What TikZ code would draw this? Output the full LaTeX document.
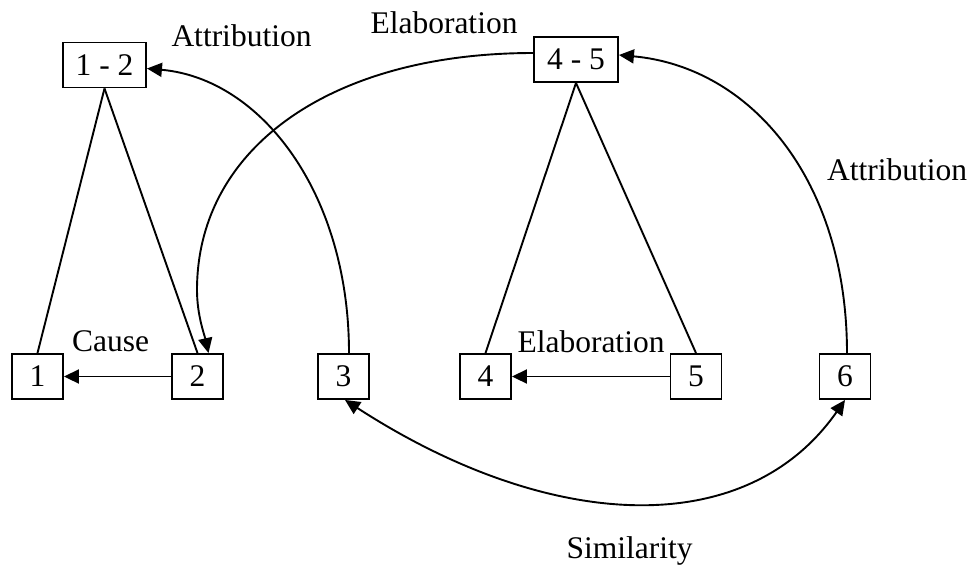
\documentclass[tikz,border=0pt]{standalone}
\usepackage{fontspec}
\setmainfont{Liberation Serif}
\usetikzlibrary{arrows.meta}

\tikzset{
  box/.style={draw, line width=1.9pt, inner sep=0pt, minimum height=45pt},
  parentbox/.style={box, minimum width=84pt},
  leafbox/.style={box, minimum width=51pt},
  link/.style={line width=1.9pt},
  rel/.style={line width=1.9pt, -{Triangle[length=15pt,width=14pt]}},
  relboth/.style={line width=1.9pt, {Triangle[length=15pt,width=14pt]}-{Triangle[length=15pt,width=14pt]}},
  lbl/.style={anchor=base, inner sep=0pt}
}

\begin{document}
\begin{tikzpicture}[x=1pt, y=-1pt, font=\fontsize{31.5}{38}\selectfont]
\useasboundingbox (0,0) rectangle (975,566);

% span nodes
\node[parentbox, minimum width=83pt] (n12) at (104.5,65) {1 - 2};
\node[parentbox] (n45) at (576,59.5) {4 - 5};

% elementary units
\node[leafbox] (n1) at (37.5,376.5) {1};
\node[leafbox] (n2) at (197.5,376.5) {2};
\node[leafbox] (n3) at (343.5,376.5) {3};
\node[leafbox] (n4) at (485.5,376.5) {4};
\node[leafbox] (n5) at (696,376.5) {5};
\node[leafbox] (n6) at (845,376.5) {6};

% tree edges
\draw[link] (n12.south) -- (n1.north);
\draw[link] (n12.south) -- (n2.north);
\draw[link] (n45.south) -- (n4.north);
\draw[link] (n45.south) -- (n5.north);

% relations between siblings
\draw[rel] (n2.west) -- (n1.east);
\draw[rel] (n5.west) -- (n4.east);

% long-range relations
\draw[rel] ([xshift=5.5pt]n3.north) .. controls +(0,-160) and +(114,10) .. ([yshift=-3.5pt]n12.east);

\coordinate (elabturn) at (197,290);
\draw[rel] ([yshift=6.5pt]n45.west) .. controls +(-202,0) and +(0,-142) .. (elabturn)
  .. controls +(0,25) and +(-4,-18) .. ([xshift=11pt]n2.north);

\draw[rel] ([xshift=2pt]n6.north) .. controls +(0,-173) and +(132,12) .. ([yshift=4.5pt]n45.east);

\draw[relboth] ([xshift=1.5pt]n3.south) .. controls +(202,131) and +(-100,143) .. (n6.south);

% relation labels
\node[lbl] (lattr1) at (241.5,46) {Attribution};
\node[lbl] (lelab1) at (444,33) {Elaboration};
\node[lbl] (lattr2) at (897,180) {Attribution};
\node[lbl] (lcause) at (110.5,351) {Cause};
\node[lbl] (lelab2) at (591,352) {Elaboration};
\node[lbl] (lsim) at (629.5,558) {Similarity};
\end{tikzpicture}
\end{document}
